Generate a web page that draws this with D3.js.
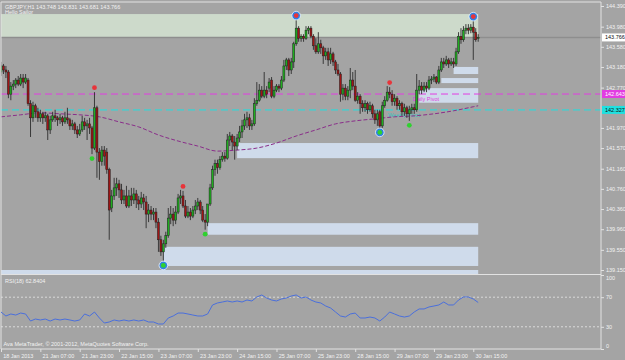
<!DOCTYPE html>
<html>
<head>
<meta charset="utf-8">
<script src="https://cdn.jsdelivr.net/npm/d3@7"></script>
<style>
  body { margin: 0; background: #a5a5a5; }
  svg { display: block; }
  text { font-family: "Liberation Sans", Arial, sans-serif; font-size: 5.5px; fill: #f2f2f2; }
</style>
</head>
<body>
<svg width="625" height="360"></svg>
<script>
// GBPJPY H1 bars (one value per bar, oldest first)
var opens = [
 143.08,143.20,143.12,143.08,142.64,142.80,142.84,142.92,142.84,142.96,
 142.88,142.92,142.45,142.17,142.41,142.29,142.17,142.25,142.17,142.21,
 141.93,142.13,142.21,142.17,142.13,142.17,142.09,142.17,142.13,142.01,
 142.05,141.93,141.85,141.93,142.09,142.01,142.05,141.97,141.57,142.37,
 141.49,141.30,141.53,141.49,141.14,140.38,140.62,140.78,140.86,140.74,
 140.54,140.62,140.42,140.62,140.54,140.66,140.54,140.46,140.58,140.50,
 140.26,140.34,140.26,140.30,140.10,139.75,139.51,139.67,139.83,140.18,
 140.26,140.14,140.30,140.58,140.62,140.42,140.22,140.30,140.22,140.34,
 140.42,140.50,140.34,140.14,140.10,140.46,140.78,141.14,141.26,141.18,
 141.34,141.41,141.37,141.73,141.81,141.69,141.61,141.77,141.89,142.01,
 142.13,142.17,142.01,142.05,142.45,142.52,142.72,142.60,142.72,142.76,
 142.92,142.60,142.72,142.80,142.76,142.92,143.20,143.32,143.12,143.28,
 143.64,143.95,143.75,143.79,143.75,143.91,143.95,143.79,143.60,143.48,
 143.64,143.56,143.40,143.48,143.32,143.44,143.28,143.12,143.04,142.64,
 142.76,142.60,142.72,142.92,142.80,142.52,142.60,142.45,142.37,142.45,
 142.33,142.41,142.25,142.13,142.29,142.01,142.41,142.52,142.68,142.64,
 142.49,142.56,142.41,142.45,142.29,142.37,142.25,142.33,142.37,142.33,
 142.72,142.80,142.72,142.80,142.76,142.92,142.94,142.98,142.88,143.12,
 143.28,143.24,143.32,143.24,143.28,143.24,143.48,143.79,143.72,143.91,
 143.95,143.91,143.97,143.87,143.748];
var highs = [
 143.28,143.24,143.20,143.12,142.88,142.92,142.96,143.00,143.04,143.04,
 143.04,142.96,142.52,142.49,142.45,142.37,142.33,142.29,142.29,142.25,
 142.21,142.29,142.33,142.21,142.25,142.21,142.29,142.37,142.17,142.13,
 142.09,142.01,142.05,142.21,142.17,142.13,142.17,142.01,142.68,142.41,
 141.57,141.61,141.61,141.57,141.18,140.74,140.98,140.98,140.94,140.86,
 140.74,140.82,140.74,140.78,140.78,140.74,140.62,140.70,140.66,140.62,
 140.46,140.42,140.38,140.38,140.18,139.83,139.75,139.91,140.38,140.42,
 140.38,140.42,140.66,140.74,140.72,140.54,140.42,140.38,140.42,140.54,
 140.58,140.54,140.42,140.26,140.46,140.86,141.22,141.34,141.34,141.41,
 141.49,141.49,141.85,141.89,141.85,141.81,141.85,142.01,142.13,142.25,
 142.29,142.25,142.13,142.56,142.88,142.84,142.80,143.08,142.80,142.96,
 142.98,142.80,142.84,142.84,143.00,143.32,143.36,143.36,143.36,143.68,
 144.11,143.99,143.83,143.83,143.99,143.99,143.99,143.83,143.75,143.87,
 143.72,143.60,143.56,143.56,143.56,143.48,143.32,143.24,143.08,142.84,
 142.84,142.80,143.16,143.08,143.12,142.68,142.64,142.52,142.52,142.49,
 142.49,142.45,142.33,142.33,142.33,142.49,142.60,142.80,142.78,142.72,
 142.64,142.60,142.52,142.49,142.45,142.41,142.41,142.45,142.45,143.04,
 142.92,142.88,142.88,142.88,143.00,143.00,143.04,143.00,143.20,143.36,
 143.36,143.40,143.36,143.36,143.36,143.56,143.87,143.95,143.99,144.03,
 144.03,144.03,144.09,143.95,143.831];
var lows = [
 143.00,143.04,142.96,142.56,142.52,142.72,142.76,142.80,142.80,142.76,
 142.84,142.41,141.79,142.09,142.17,142.09,142.09,142.05,142.09,141.73,
 141.85,142.09,142.09,142.01,142.05,142.01,142.05,142.05,141.93,141.93,
 141.85,141.77,141.81,141.89,141.93,141.73,141.85,141.45,141.53,140.98,
 140.94,141.22,141.22,141.06,139.75,140.30,140.54,140.62,140.58,140.46,
 140.46,140.38,140.38,140.42,140.46,140.38,140.34,140.38,140.34,139.98,
 140.10,140.14,140.14,139.98,139.51,139.43,139.33,139.59,139.79,140.06,
 140.02,140.06,140.26,140.46,140.38,140.18,140.18,140.14,140.18,140.26,
 140.34,140.26,140.10,139.95,140.02,140.42,140.74,141.02,141.06,141.14,
 141.30,141.30,141.34,141.61,141.53,141.34,141.53,141.69,141.77,141.93,
 141.97,141.93,141.93,142.01,142.41,142.49,142.56,142.56,142.56,142.68,
 142.56,142.56,142.68,142.68,142.72,142.88,143.12,143.00,143.04,143.16,
 143.60,143.68,143.68,143.68,143.72,143.83,143.75,143.52,143.44,143.44,
 143.44,143.24,143.32,143.20,143.24,143.20,143.04,143.00,142.49,142.52,
 142.52,142.52,142.56,142.72,142.49,142.45,142.25,142.29,142.29,142.25,
 142.29,142.17,142.05,142.01,141.97,141.97,142.37,142.49,142.56,142.41,
 142.41,142.33,142.33,142.21,142.21,142.17,142.11,142.25,142.25,142.29,
 142.64,142.64,142.68,142.68,142.72,142.84,142.88,142.84,142.84,143.08,
 143.16,143.20,143.16,143.20,143.16,143.20,143.44,143.64,143.68,143.83,
 143.83,143.85,143.32,143.68,143.681];
var closes = [
 143.20,143.12,143.08,142.64,142.80,142.84,142.92,142.84,142.96,142.88,
 142.96,142.45,142.17,142.41,142.29,142.17,142.25,142.17,142.21,141.93,
 142.13,142.21,142.17,142.13,142.17,142.09,142.17,142.13,142.01,142.05,
 141.93,141.85,141.93,142.09,142.01,142.05,141.97,141.57,142.37,141.49,
 141.30,141.53,141.41,141.14,140.34,140.62,140.78,140.86,140.74,140.54,
 140.62,140.42,140.62,140.54,140.66,140.54,140.46,140.58,140.50,140.26,
 140.34,140.26,140.30,140.10,139.75,139.51,139.67,139.83,140.18,140.26,
 140.14,140.30,140.58,140.62,140.42,140.22,140.30,140.22,140.34,140.42,
 140.50,140.34,140.14,140.10,140.46,140.78,141.14,141.26,141.18,141.34,
 141.41,141.37,141.73,141.81,141.69,141.61,141.77,141.89,142.01,142.13,
 142.17,142.01,142.05,142.45,142.52,142.72,142.60,142.72,142.64,142.88,
 142.60,142.72,142.80,142.76,142.92,143.20,143.32,143.12,143.28,143.64,
 143.95,143.75,143.79,143.75,143.91,143.95,143.79,143.60,143.48,143.64,
 143.56,143.40,143.48,143.32,143.44,143.28,143.12,143.04,142.64,142.76,
 142.60,142.72,142.92,142.80,142.52,142.60,142.45,142.37,142.45,142.33,
 142.41,142.25,142.13,142.25,142.01,142.41,142.52,142.68,142.64,142.49,
 142.56,142.41,142.45,142.29,142.37,142.25,142.33,142.37,142.33,142.72,
 142.80,142.72,142.80,142.76,142.92,142.94,142.98,142.88,143.12,143.28,
 143.24,143.32,143.24,143.28,143.24,143.48,143.79,143.72,143.91,143.95,
 143.91,143.97,143.87,143.72,143.766];

// moving average (purple dashed), sampled at these bars
var maIdx = [0,8,16,24,32,40,48,56,64,72,80,88,96,104,112,120,128,136,144,152,160,168,176,184,192,194];
var maVals = [142.19,142.23,142.27,142.25,142.23,142.19,142.09,141.99,141.83,141.71,141.61,141.51,141.53,141.57,141.67,141.81,141.93,142.05,142.11,142.15,142.19,142.21,142.25,142.31,142.39,142.41];

// RSI(18), every second bar
var rsiVals = [
 50.0,44.6,47.3,45.9,48.6,47.3,37.8,40.5,39.2,40.5,
 37.8,40.5,39.2,40.5,39.2,37.8,39.2,47.3,44.6,50.0,
 41.9,35.1,36.5,39.2,37.8,39.2,37.8,39.2,37.8,39.2,
 36.5,36.5,33.8,33.8,41.9,44.6,48.6,48.6,47.3,45.9,
 44.6,44.6,47.3,59.5,62.2,63.5,64.9,63.5,64.9,63.5,
 66.2,64.9,70.3,73.0,68.9,66.2,64.9,67.6,68.9,71.6,
 73.0,68.9,70.3,66.2,63.5,62.2,58.1,55.4,50.0,44.6,
 43.2,47.3,48.6,41.9,41.9,43.2,41.9,37.8,43.2,50.0,
 47.3,44.6,43.2,44.6,50.0,54.1,54.1,56.8,58.1,59.5,
 63.5,59.5,59.5,66.2,70.3,70.3,67.6,62.84];
var rsiLevels = [70, 30];
var rsiTicks = [100, 70, 30, 0];

// supply / demand zones: first bar, top price, bottom price
var supplyZone = { start: -5, top: 144.23, bottom: 143.77 };
var zoneStart = [184, 179, 170, 96, 84, 66, -5];
var zoneTop = [143.18, 142.96, 142.76, 141.67, 140.08, 139.61, 139.15];
var zoneBottom = [143.04, 142.86, 142.47, 141.37, 139.85, 139.23, 138.90];

// fractal marks and swing points
var fractalUp = [38, 74, 120, 158, 192];
var fractalDown = [37, 66, 83, 154, 166];
var swingUp = [120, 192];
var swingDown = [66, 154];

var dailyPivot = 142.643, weeklyPivot = 142.327, bid = 143.766;
// 142.370 sits under the weekly pivot label and is not shown
var priceTicks = [144.390,143.980,143.580,143.180,142.770,141.970,141.570,141.160,140.760,140.360,139.960,139.550,139.150];
var timeIdx = [0,16,32,48,64,80,96,112,128,144,160,176,192];
var timeLabels = ["18 Jan 2013","21 Jan 07:00","21 Jan 23:00","22 Jan 15:00","23 Jan 07:00","23 Jan 23:00","24 Jan 15:00","25 Jan 07:00","25 Jan 23:00","28 Jan 15:00","29 Jan 07:00","29 Jan 23:00","30 Jan 15:00"];

//----------------------------------------------------------------
var svg = d3.select("svg");
var right = 601, last = closes.length - 1;
var x = d3.scaleLinear().domain([0, last]).range([1, 478.2]);
var y = d3.scaleLinear().domain([139.15, 144.39]).range([270, 6]);
var yR = d3.scaleLinear().domain([0, 100]).range([349, 275]);
var line = "#e2e2e2";

svg.append("rect").attr("width", 625).attr("height", 360).attr("fill", "#a4a4a4");

svg.append("clipPath").attr("id", "main").append("rect")
  .attr("x", 1).attr("y", 2).attr("width", right - 1).attr("height", 272);
var g = svg.append("g").attr("clip-path", "url(#main)");

// zones
g.append("rect")
  .attr("x", x(supplyZone.start)).attr("y", y(supplyZone.top))
  .attr("width", x(last) - x(supplyZone.start))
  .attr("height", y(supplyZone.bottom) - y(supplyZone.top))
  .attr("fill", "#cddacb");
g.selectAll(".zone").data(zoneStart).enter().append("rect")
  .attr("x", function(d){ return x(d); })
  .attr("y", function(d, i){ return y(zoneTop[i]); })
  .attr("width", function(d){ return x(last) - x(d); })
  .attr("height", function(d, i){ return y(zoneBottom[i]) - y(zoneTop[i]); })
  .attr("fill", "#cfdbeb");

// pivots and bid line
g.append("line").attr("x1", 1).attr("x2", right).attr("y1", y(dailyPivot)).attr("y2", y(dailyPivot))
  .attr("stroke", "#e23ce2").attr("stroke-width", 1).attr("stroke-dasharray", "7,4");
g.append("line").attr("x1", 1).attr("x2", right).attr("y1", y(weeklyPivot)).attr("y2", y(weeklyPivot))
  .attr("stroke", "#1fe0e0").attr("stroke-width", 1).attr("stroke-dasharray", "7,4");
g.append("line").attr("x1", 1).attr("x2", right).attr("y1", y(bid)).attr("y2", y(bid))
  .attr("stroke", "#8e8e8e").attr("stroke-width", 1.5);
g.append("text").attr("x", 413).attr("y", y(dailyPivot) + 7).text("Daily Pivot").style("fill", "#e03ce0");
g.append("text").attr("x", 388).attr("y", y(weeklyPivot) + 7).text("Weekly Pivot").style("fill", "#33c0c0");

// moving average
g.append("path")
  .attr("d", d3.line().curve(d3.curveMonotoneX)
    .x(function(d){ return x(d); })
    .y(function(d, i){ return y(maVals[i]); })(maIdx))
  .attr("fill", "none").attr("stroke", "#8a2e8a").attr("stroke-width", 1).attr("stroke-dasharray", "4,2");

// candles
var bars = d3.range(closes.length);
g.selectAll(".wick").data(bars).enter().append("line")
  .attr("x1", function(i){ return x(i); }).attr("x2", function(i){ return x(i); })
  .attr("y1", function(i){ return y(highs[i]); }).attr("y2", function(i){ return y(lows[i]); })
  .attr("stroke", "#2e2e2e").attr("stroke-width", 0.9);
g.selectAll(".body").data(bars).enter().append("rect")
  .attr("x", function(i){ return x(i) - 1; }).attr("width", 2)
  .attr("y", function(i){ return y(Math.max(opens[i], closes[i])); })
  .attr("height", function(i){ return Math.max(0.8, Math.abs(y(opens[i]) - y(closes[i]))); })
  .attr("fill", function(i){ return closes[i] > opens[i] ? "#1fae1f" : closes[i] < opens[i] ? "#a01515" : "#555"; })
  .attr("stroke", "#202020").attr("stroke-width", 0.5);

// swing circles and fractal dots
g.selectAll(".swu").data(swingUp).enter().append("circle")
  .attr("cx", function(i){ return x(i); }).attr("cy", function(i){ return y(highs[i]) - 4.5; })
  .attr("r", 4.3).attr("fill", "#2f80e6").attr("stroke", "#eef4fb").attr("stroke-width", 0.8);
g.selectAll(".swd").data(swingDown).enter().append("circle")
  .attr("cx", function(i){ return x(i); }).attr("cy", function(i){ return y(lows[i]) + 4.5; })
  .attr("r", 4.3).attr("fill", "#2f80e6").attr("stroke", "#eef4fb").attr("stroke-width", 0.8);
g.selectAll(".fu").data(fractalUp).enter().append("circle")
  .attr("cx", function(i){ return x(i); }).attr("cy", function(i){ return y(highs[i]) - 4.5; })
  .attr("r", 2.4).attr("fill", "#e8343a");
g.selectAll(".fd").data(fractalDown).enter().append("circle")
  .attr("cx", function(i){ return x(i); }).attr("cy", function(i){ return y(lows[i]) + 4.5; })
  .attr("r", 2.4).attr("fill", "#2fd12f");

// window frames
svg.append("line").attr("x1", 1).attr("x2", right).attr("y1", 2).attr("y2", 2).attr("stroke", line);
svg.append("line").attr("x1", 1).attr("x2", right).attr("y1", 274.5).attr("y2", 274.5).attr("stroke", line);
svg.append("line").attr("x1", 1).attr("x2", right).attr("y1", 349).attr("y2", 349).attr("stroke", line);
svg.append("line").attr("x1", 1).attr("x2", 1).attr("y1", 2).attr("y2", 349).attr("stroke", line);
svg.append("line").attr("x1", right).attr("x2", right).attr("y1", 2).attr("y2", 349).attr("stroke", line);

// price axis
var pa = svg.append("g").attr("transform", "translate(" + right + ",0)")
  .call(d3.axisRight(y).tickValues(priceTicks).tickFormat(d3.format(".3f")).tickSize(3).tickPadding(2));
pa.select(".domain").remove();
pa.selectAll("line").attr("stroke", line);
pa.selectAll("text").style("font-size", "5.5px").style("fill", "#f2f2f2").attr("font-family", null);

function priceBox(v, bg, fg) {
  svg.append("rect").attr("x", right + 1).attr("y", y(v) - 4).attr("width", 24).attr("height", 8).attr("fill", bg);
  svg.append("text").attr("x", right + 4).attr("y", y(v) + 2).text(d3.format(".3f")(v)).style("fill", fg);
}
priceBox(bid, "#ffffff", "#111111");
priceBox(dailyPivot, "#e23ce2", "#ffffff");
priceBox(weeklyPivot, "#1fe0e0", "#111111");

// RSI window
svg.selectAll(".lvl").data(rsiLevels).enter().append("line")
  .attr("x1", 1).attr("x2", right).attr("y1", function(d){ return yR(d); }).attr("y2", function(d){ return yR(d); })
  .attr("stroke", "#e8e8e8").attr("stroke-width", 0.8).attr("stroke-dasharray", "2,2");
svg.append("path")
  .attr("d", d3.line().x(function(d, i){ return x(i * 2); }).y(function(d){ return yR(d); })(rsiVals))
  .attr("fill", "none").attr("stroke", "#4a6fdc").attr("stroke-width", 1);
var ra = svg.append("g").attr("transform", "translate(" + right + ",0)")
  .call(d3.axisRight(yR).tickValues(rsiTicks).tickSize(3).tickPadding(2));
ra.select(".domain").remove();
ra.selectAll("line").attr("stroke", line);
ra.selectAll("text").style("font-size", "5.5px").style("fill", "#f2f2f2").attr("font-family", null)
  .attr("dy", function(d){ return d === 100 ? "0.9em" : d === 0 ? "-0.2em" : "0.32em"; });

// time axis
var ta = svg.append("g").attr("transform", "translate(0,349)")
  .call(d3.axisBottom(x).tickValues(timeIdx).tickSize(3).tickPadding(2)
    .tickFormat(function(d, i){ return timeLabels[i]; }));
ta.select(".domain").remove();
ta.selectAll("line").attr("stroke", line);
ta.selectAll("text").style("font-size", "5.5px").style("fill", "#f2f2f2").attr("font-family", null)
  .attr("text-anchor", "start").attr("dx", "0.3em");

// captions
svg.append("text").attr("x", 5).attr("y", 8.5).text("GBPJPY,H1  143.748 143.831 143.681 143.766");
svg.append("text").attr("x", 5).attr("y", 13.5).text("Hello Sailor");
svg.append("text").attr("x", 5).attr("y", 283).text("RSI(18) 62.8404");
svg.append("text").attr("x", 3.5).attr("y", 346).text("Ava MetaTrader, \u00a9 2001-2012, MetaQuotes Software Corp.");
</script>
</body>
</html>
